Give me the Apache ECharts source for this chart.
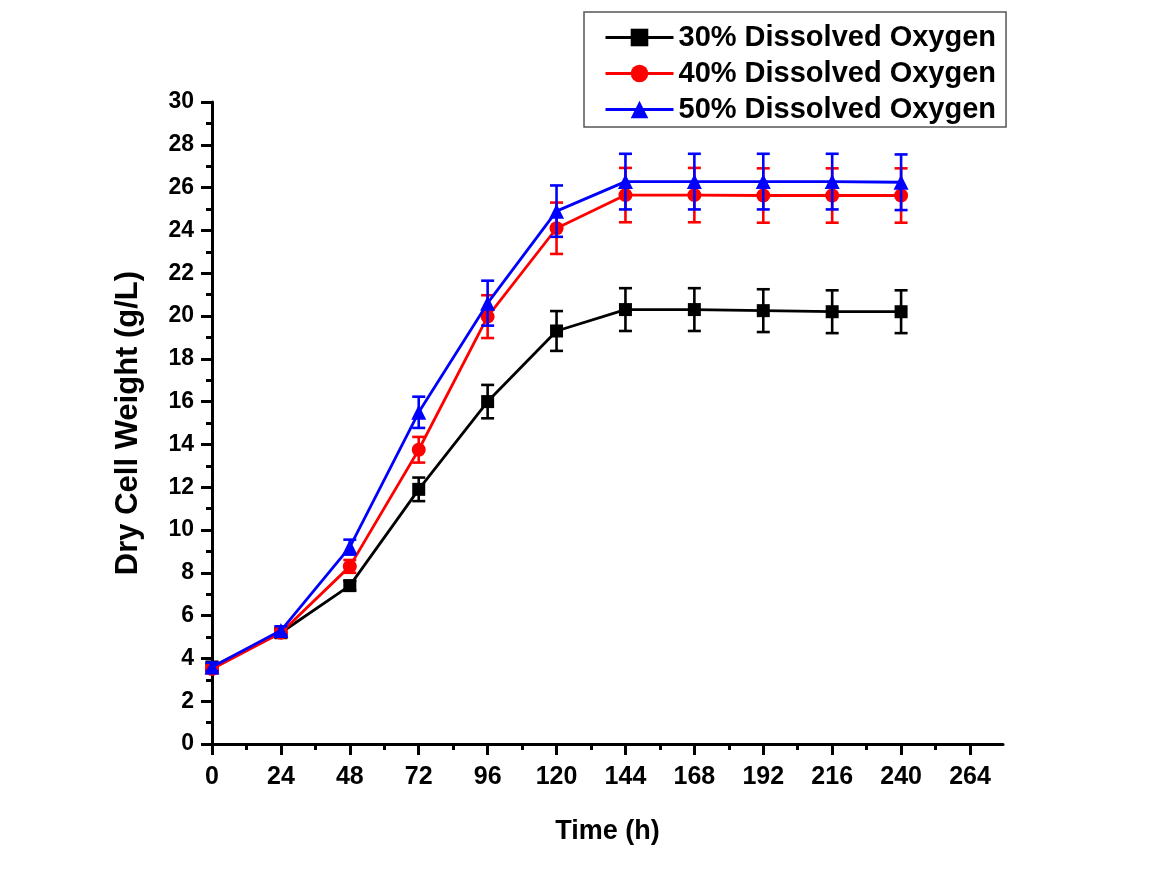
<!DOCTYPE html>
<html>
<head>
<meta charset="utf-8">
<script src="https://cdn.jsdelivr.net/npm/echarts@6/dist/echarts.min.js"></script>
<style>html,body{margin:0;padding:0;background:#fff}#c{width:1156px;height:886px}</style>
</head>
<body>
<div id="c"></div>
<script>
const times = [0, 24, 48, 72, 96, 120, 144, 168, 192, 216, 240];
const seriesNames = ['30% Dissolved Oxygen', '40% Dissolved Oxygen', '50% Dissolved Oxygen'];
const do30 = [3.6, 5.2, 7.4, 11.9, 16.0, 19.3, 20.3, 20.3, 20.25, 20.2, 20.2];
const do30Err = [0.15, 0.2, 0.22, 0.55, 0.78, 0.93, 1.0, 1.0, 1.0, 1.0, 1.0];
const do40 = [3.5, 5.2, 8.3, 13.75, 19.97, 24.1, 25.65, 25.65, 25.63, 25.63, 25.63];
const do40Err = [0.2, 0.2, 0.3, 0.6, 1.0, 1.2, 1.27, 1.27, 1.27, 1.27, 1.27];
const do50 = [3.6, 5.3, 9.2, 15.5, 20.6, 24.9, 26.28, 26.28, 26.28, 26.28, 26.25];
const do50Err = [0.2, 0.2, 0.35, 0.73, 1.05, 1.2, 1.3, 1.3, 1.3, 1.3, 1.3];
const xTickMax = 264, xAxisMax = 276, xInterval = 24;
const yMin = 0, yMax = 30, yInterval = 2;

const colors = ['#000000', '#ff0000', '#0000ff'];
const symbols = ['rect', 'circle', 'triangle'];
const symbolSizes = [13, 14, 15];
const vals = [do30, do40, do50];
const errs = [do30Err, do40Err, do50Err];
const FONT = 'Liberation Sans';

function errRender(params, api) {
  const x = api.value(0), lo = api.value(1), hi = api.value(2);
  const a = api.coord([x, lo]), b = api.coord([x, hi]);
  const hw = 6.5;
  const st = { stroke: api.visual('color'), lineWidth: 2.6 };
  return {
    type: 'group',
    children: [
      { type: 'line', shape: { x1: a[0], y1: a[1], x2: b[0], y2: b[1] }, style: st },
      { type: 'line', shape: { x1: a[0] - hw, y1: a[1], x2: a[0] + hw, y2: a[1] }, style: st },
      { type: 'line', shape: { x1: b[0] - hw, y1: b[1], x2: b[0] + hw, y2: b[1] }, style: st }
    ]
  };
}

const series = [];
for (let k = 0; k < 3; k++) {
  series.push({
    name: seriesNames[k], type: 'line', xAxisIndex: 0, yAxisIndex: 0,
    data: times.map((t, i) => [t, vals[k][i]]),
    symbol: symbols[k], symbolSize: symbolSizes[k],
    lineStyle: { color: colors[k], width: 2.8 },
    itemStyle: { color: colors[k] },
    z: 2 + k * 2
  });
  series.push({
    name: seriesNames[k] + ' err', type: 'custom', xAxisIndex: 0, yAxisIndex: 0,
    renderItem: errRender,
    itemStyle: { color: colors[k] },
    encode: { x: 0, y: [1, 2] },
    data: times.map((t, i) => [t, vals[k][i] - errs[k][i], vals[k][i] + errs[k][i]]),
    z: 3 + k * 2
  });
}

const chart = echarts.init(document.getElementById('c'), null, { renderer: 'canvas' });
chart.setOption({
  backgroundColor: '#ffffff',
  animation: false,
  color: colors,
  legend: {
    data: seriesNames,
    orient: 'vertical',
    left: 584, top: 12,
    padding: [11, 10, 3, 20],
    itemGap: 7,
    itemWidth: 68, itemHeight: 22,
    lineStyle: { width: 3 },
    borderColor: '#555', borderWidth: 1.5,
    textStyle: { fontFamily: FONT, fontWeight: 'bold', fontSize: 29, color: '#000' }
  },
  grid: [
    { left: 212, right: 186, top: 102, bottom: 142, containLabel: false },
    { left: 212, right: 153, top: 102, bottom: 142, containLabel: false }
  ],
  xAxis: [
    {
      type: 'value', gridIndex: 0, min: 0, max: xTickMax, interval: xInterval,
      axisLine: { show: false },
      axisTick: { show: true, length: 11, lineStyle: { color: '#000', width: 3 } },
      minorTick: { show: true, splitNumber: 2, length: 6, lineStyle: { color: '#000', width: 3 } },
      splitLine: { show: false },
      axisLabel: { margin: 21, fontFamily: FONT, fontWeight: 'bold', fontSize: 25, color: '#000' }
    },
    {
      type: 'value', gridIndex: 1, min: 0, max: xAxisMax,
      axisLine: { show: true, lineStyle: { color: '#000', width: 3 } },
      axisTick: { show: false }, axisLabel: { show: false }, splitLine: { show: false },
      name: 'Time (h)', nameLocation: 'middle', nameGap: 74,
      nameTextStyle: { fontFamily: FONT, fontWeight: 'bold', fontSize: 27, color: '#000' }
    }
  ],
  yAxis: [
    {
      type: 'value', gridIndex: 0, min: yMin, max: yMax, interval: yInterval,
      axisLine: { show: true, lineStyle: { color: '#000', width: 3 } },
      axisTick: { show: true, length: 11, lineStyle: { color: '#000', width: 3 } },
      minorTick: { show: true, splitNumber: 2, length: 6, lineStyle: { color: '#000', width: 3 } },
      splitLine: { show: false },
      axisLabel: { margin: 18, fontFamily: FONT, fontWeight: 'bold', fontSize: 23, color: '#000' },
      name: 'Dry Cell Weight (g/L)', nameLocation: 'middle', nameGap: 68, nameRotate: 90,
      nameTextStyle: { fontFamily: FONT, fontWeight: 'bold', fontSize: 31, color: '#000' }
    },
    {
      type: 'value', gridIndex: 1, min: yMin, max: yMax, show: false
    }
  ],
  series: series
});
</script>
</body>
</html>
